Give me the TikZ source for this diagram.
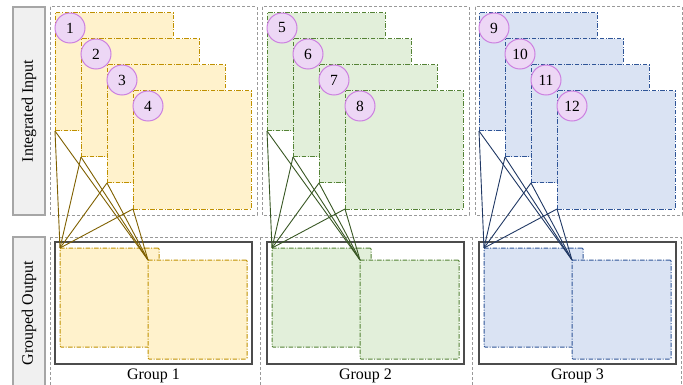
\documentclass[tikz,border=0pt]{standalone}
\usepackage{fontspec}
\setmainfont{Liberation Serif}
\usetikzlibrary{positioning}
\definecolor{Yfill}{HTML}{FFF2CC}
\definecolor{Ydraw}{HTML}{BF9000}
\definecolor{Yline}{HTML}{7F6000}
\definecolor{Gfill}{HTML}{E2EFDA}
\definecolor{Gdraw}{HTML}{548235}
\definecolor{Gline}{HTML}{385723}
\definecolor{Bfill}{HTML}{DAE3F3}
\definecolor{Bdraw}{HTML}{2F5597}
\definecolor{Bline}{HTML}{203864}
\definecolor{Nfill}{HTML}{EDD7F5}
\definecolor{Ndraw}{HTML}{CC80E0}
\tikzset{
every node/.style={inner sep=0pt,outer sep=0pt},
inrect/.style={rectangle,draw=#1draw,fill=#1fill,line width=1pt,dash pattern=on 4.5pt off 1.5pt on 1pt off 1.5pt,minimum width=118pt,minimum height=118pt,anchor=north west},
outrect/.style={inrect=#1,rounded corners=1pt,minimum width=99pt,minimum height=99pt},
numcircle/.style={circle,draw=Ndraw,fill=Nfill,line width=1pt,minimum size=30pt,font=\fontsize{15.5}{18}\selectfont},
sidebox/.style={rectangle,draw=black!35,fill=black!6,line width=1.3pt,minimum height=32pt,rotate=90,font=\fontsize{16}{19}\selectfont},
groupbox/.style={rectangle,draw=black!70,line width=1.2pt,minimum width=197pt,minimum height=122pt,anchor=north west},
grouplabel/.style={font=\fontsize{16}{19}\selectfont},
area/.style={draw=black!40,line width=1pt,dash pattern=on 3pt off 2pt},
link/.style={draw=#1line,line width=0.9pt}
}

\begin{document}
\begin{tikzpicture}[x=1pt,y=-1pt]
\useasboundingbox (0,0) rectangle (683,385);

\node[sidebox,minimum width=208pt] (inlabel) at (29,111) {Integrated Input};
\node[sidebox,minimum width=152pt] (outlabel) at (29,313) {Grouped Output};

\draw[area] (50,7) rectangle (257,215);
\draw[area] (262,7) rectangle (469,215);
\draw[area] (475,7) rectangle (682,215);
\draw[area] (50,237) rectangle (681,395);
\draw[area] (260,237) -- (260,395);
\draw[area] (472,237) -- (472,395);

\foreach \g/\col in {1/Y,2/G,3/B} {
  \pgfmathsetmacro{\ox}{212*(\g-1)}
  \node[groupbox] (grp\g) at (55+\ox,242) {};
  \node[grouplabel,below=5pt of grp\g] (glabel\g) {Group \g};

  \foreach \k in {0,...,3} {
    \pgfmathtruncatemacro{\n}{4*(\g-1)+\k+1}
    \node[inrect=\col] (in\n) at (55+\ox+26*\k,13+26*\k) {};
  }
  \foreach \k in {0,...,3} {
    \pgfmathtruncatemacro{\n}{4*(\g-1)+\k+1}
    \node[numcircle] (num\n) at ([xshift=15pt,yshift=-15pt]in\n.north west) {\n};
  }

  \node[outrect=\col] (oa\g) at (60+\ox,248) {};
  \node[outrect=\col] (ob\g) at (148+\ox,260) {};

  \foreach \k in {1,...,4} {
    \pgfmathtruncatemacro{\n}{4*(\g-1)+\k}
    \draw[link=\col] (in\n.south west) -- (oa\g.north west);
    \draw[link=\col] (in\n.south west) -- (ob\g.north west);
  }
}
\end{tikzpicture}
\end{document}
